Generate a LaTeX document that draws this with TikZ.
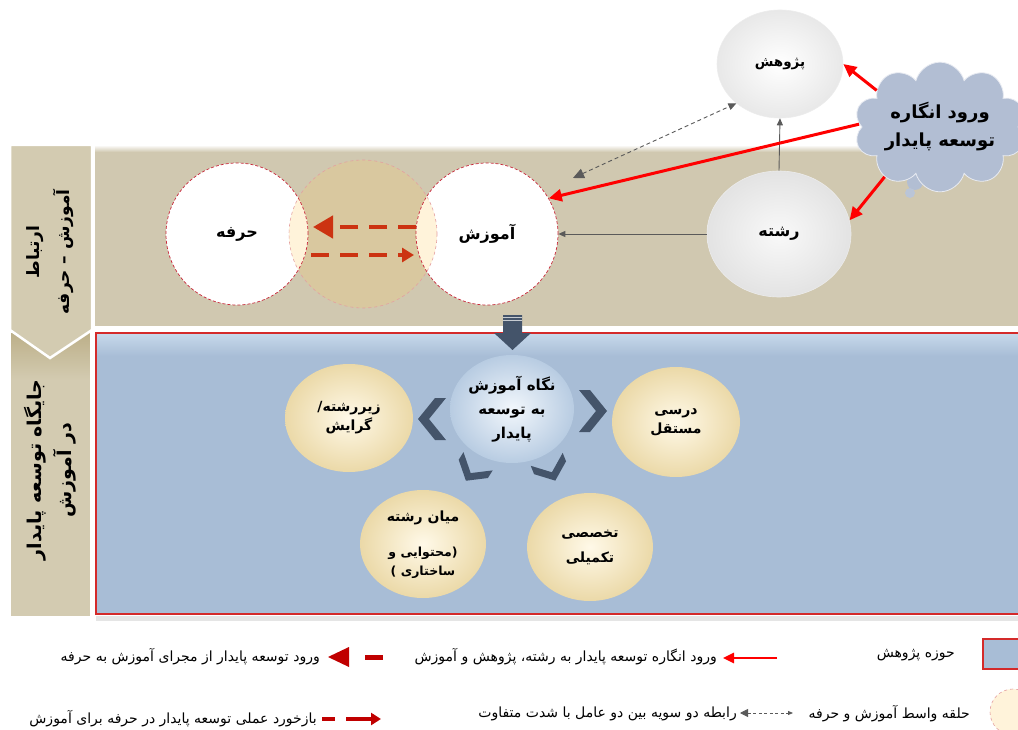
\documentclass[tikz,border=0pt]{standalone}
\usepackage{fontspec}
\usetikzlibrary{shapes.geometric,shapes.symbols,arrows.meta}
\TeXXeTstate=1
\newfontfamily\fa[Script=Arabic]{DejaVu Sans}
\newcommand\rl[1]{\beginR #1\endR}
\definecolor{bandtan}{HTML}{D0C8B0}
\definecolor{coltan}{HTML}{D3CBB1}
\definecolor{coltop}{HTML}{BCAF88}
\definecolor{boxblue}{HTML}{A8BDD6}
\definecolor{boxtop}{HTML}{C6D8EA}
\definecolor{boxred}{HTML}{D42A2A}
\definecolor{circred}{HTML}{C8283A}
\definecolor{midfill}{HTML}{D9C89F}
\definecolor{midline}{HTML}{E4A0A0}
\definecolor{lens}{HTML}{FFF3DA}
\definecolor{slate}{HTML}{44546A}
\definecolor{creamin}{HTML}{FFF9E8}
\definecolor{creamout}{HTML}{EBD9A8}
\definecolor{bluein}{HTML}{F2F7FC}
\definecolor{blueout}{HTML}{B8CCE2}
\definecolor{cloudfill}{HTML}{B2BED3}
\definecolor{dashred}{HTML}{CC3311}
\definecolor{dkred}{HTML}{C00000}
\definecolor{greyline}{HTML}{5A5A5A}
\begin{document}
\begin{tikzpicture}[x=1pt,y=-1pt,font=\fa,
  bigtxt/.style={font=\fa\bfseries\fontsize{16}{19}\selectfont},
  sattxt/.style={font=\fa\bfseries\fontsize{14}{19}\selectfont},
  legtxt/.style={font=\fa\fontsize{14}{16}\selectfont, anchor=east, inner sep=0},
  wcircle/.style={circle, draw=circred, densely dashed, line width=0.7, minimum size=142, inner sep=0, bigtxt},
  wball/.style={ellipse, shading=radial, inner color=white, outer color=gray!18, draw=gray!15, line width=0.6, inner sep=0, bigtxt},
  sat/.style={ellipse, shading=radial, inner color=creamin, outer color=creamout, inner sep=0, minimum width=128, minimum height=108, sattxt, align=center},
  redarr/.style={red, line width=3, -{Triangle[length=13pt,width=12pt]}},
  greyarr/.style={greyline, line width=0.9, -{Triangle[length=7pt,width=6pt]}},
  chev/.pic={\fill[slate] (-14,-21) -- (-3,-21) -- (14,0) -- (-3,21) -- (-14,21) -- (3,0) -- cycle;}
]
\useasboundingbox (0,0) rectangle (1018,730);
\fill[white] (0,0) rectangle (1018,730);

% main tan band
\fill[bandtan] (95,147) rectangle (1018,326);
\shade[top color=white, bottom color=bandtan] (95,145) rectangle (1018,152);

% blue box
\fill[gray!20] (96,616) rectangle (1018,621);
\fill[boxblue] (96,333) rectangle (1018,614);
\shade[top color=boxtop, bottom color=boxblue] (96,334) rectangle (1018,356);
\draw[boxred, line width=2.5] (1022,333) -- (96,333) -- (96,614) -- (1022,614);

% left columns
\fill[coltan] (10,332) rectangle (91,617);
\shade[top color=coltop, bottom color=coltan] (10,332) rectangle (91,380);
\draw[white, line width=2] (10,332) rectangle (91,617);
\filldraw[fill=coltan, draw=white, line width=2.5] (10,145) -- (92,145) -- (92,330) -- (50,358) -- (10,330) -- cycle;
\node[rotate=90, align=center, font=\fa\bfseries\fontsize{17}{30}\selectfont] (lab1) at (50,252) {\rl{ارتباط}\\\rl{آموزش – حرفه}};
\node[rotate=90, align=center, font=\fa\bfseries\fontsize{19}{30}\selectfont] (lab2) at (50,470) {\rl{جایگاه توسعه پایدار}\\\rl{در آموزش}};

% three circles of the band
\fill[midfill] (363,234) circle (74);
\fill[white] (237,234) circle (71);
\fill[white] (487,234) circle (71);
\begin{scope}
  \clip (363,234) circle (74);
  \fill[lens] (237,234) circle (71);
  \fill[lens] (487,234) circle (71);
\end{scope}
\node[circle, draw=midline, dashed, line width=0.6, minimum size=148, inner sep=0] (mid) at (363,234) {};
\node[wcircle] (hr) at (237,234) {\rl{حرفه}};
\node[wcircle] (am) at (487,234) {\rl{آموزش}};

% red dashed arrows in the middle ring
\coordinate (t1) at (416,227);
\coordinate (t2) at (313,227);
\coordinate (b1) at (311,255);
\coordinate (b2) at (414,255);
\draw[dashred, line width=4.5, dash pattern=on 18pt off 11pt, -{Triangle[length=20pt,width=22pt]}] (t1) -- (t2);
\draw[dashred, line width=4.5, dash pattern=on 18pt off 11pt, -{Triangle[length=12pt,width=14pt]}] (b1) -- (b2);

% research and field
\node[wball, minimum width=126, minimum height=108] (pj) at (780,64) {\fontsize{13.5}{15}\selectfont\rl{پژوهش}};
\node[wball, minimum width=144, minimum height=126, outer color=gray!22, inner color=gray!5] (rs) at (779,234) {\rl{رشته}};

% cloud
\fill[cloudfill] (915,182) circle (8);
\fill[cloudfill!90!white] (910,193) circle (5);
\node[cloud, cloud puffs=10, aspect=1.6, minimum width=162, minimum height=100, fill=cloudfill, draw=white!70!cloudfill, line width=0.8, inner sep=0, align=center, font=\fa\bfseries\fontsize{18}{28}\selectfont] (cl) at (940,127) {\rl{ورود انگاره}\\\rl{توسعه پایدار}};

% connectors
\draw[greyarr] (rs) -- (am);
\draw[greyarr] (rs.north) -- (pj.south);
\coordinate (dA) at (573,178);
\draw[greyline, line width=0.9, dash pattern=on 4pt off 3pt, {Triangle[length=11pt,width=10pt]}-{Triangle[length=8pt,width=7pt]}] (dA) -- (pj.222);
\draw[redarr] (cl.150) -- (pj.east);
\draw[redarr] (cl.178) -- (am.30);
\draw[redarr] (cl.222) -- (rs.11);

% block arrow down
\fill[slate] (503,315) -- (522,315) -- (522,333) -- (531,333) -- (512.5,350) -- (494,333) -- (503,333) -- cycle;
\draw[white!70!slate, line width=0.8] (503,317.5) -- (522,317.5) (503,320.5) -- (522,320.5);

% centre and satellites
\node[ellipse, shading=radial, inner color=bluein, outer color=blueout, inner sep=0, minimum width=124, minimum height=108, align=center, font=\fa\bfseries\fontsize{15}{24}\selectfont] (cn) at (512,409) {\rl{نگاه آموزش}\\\rl{به توسعه}\\\rl{پایدار}};
\node[sat] (sz) at (349,418) {\rl{زیررشته/}\\\rl{گرایش}};
\node[sat, minimum height=110] (sd) at (676,422) {\rl{درسی}\\\rl{مستقل}};
\node[sat, minimum width=126] (sm) at (423,544) {};
\node[sattxt] at (423,518) {\rl{میان رشته}};
\node[align=center, font=\fa\bfseries\fontsize{12.5}{19}\selectfont] at (423,563) {\rl{(محتوایی و}\\\rl{ساختاری )}};
\node[sat, minimum width=126, font=\fa\bfseries\fontsize{14}{25}\selectfont] (st) at (590,547) {\rl{تخصصی}\\\rl{تکمیلی}};

\pic[rotate=180] at (432,419) {chev};
\pic at (593,411) {chev};
\pic[rotate=-122, scale=0.82] at (472,471) {chev};
\pic[rotate=-68, scale=0.82] at (551,470) {chev};

% legend row 1
\node[rectangle, fill=boxblue, draw=boxred, line width=2, minimum width=40, minimum height=30, inner sep=0] (lgbox) at (1003,654) {};
\node[legtxt] at (955,655) {\rl{حوزه پژوهش}};
\coordinate (l1a) at (777,658);
\coordinate (l1b) at (723,658);
\draw[red, line width=2.5, -{Triangle[length=11pt,width=10pt]}] (l1a) -- (l1b);
\node[legtxt] at (717,657) {\rl{ورود انگاره توسعه پایدار به رشته، پژوهش و آموزش}};
\fill[dkred] (365,655) rectangle (383,659.5);
\fill[dkred] (328,657) -- (349,647) -- (349,667) -- cycle;
\node[legtxt] at (320,657) {\rl{ورود توسعه پایدار از مجرای آموزش به حرفه}};

% legend row 2
\node[circle, fill=lens, draw=midline, dashed, line width=0.6, minimum size=46, inner sep=0] (lgc) at (1013,712) {};
\node[legtxt] at (970,714) {\rl{حلقه واسط آموزش و حرفه}};
\coordinate (l2a) at (740,713);
\coordinate (l2b) at (793,713);
\draw[greyline, line width=0.8, dash pattern=on 3pt off 2.5pt, {Triangle[length=8pt,width=8pt]}-{Triangle[length=5pt,width=4pt]}] (l2a) -- (l2b);
\node[legtxt] at (737,714) {\rl{رابطه دو سویه بین دو عامل با شدت متفاوت}};
\fill[dkred] (322,717) rectangle (335,721);
\coordinate (l3a) at (346,719);
\coordinate (l3b) at (381,719);
\draw[dkred, line width=3.5, -{Triangle[length=10pt,width=12pt]}] (l3a) -- (l3b);
\node[legtxt] at (317,719) {\rl{بازخورد عملی توسعه پایدار در حرفه برای آموزش}};
\end{tikzpicture}
\end{document}
